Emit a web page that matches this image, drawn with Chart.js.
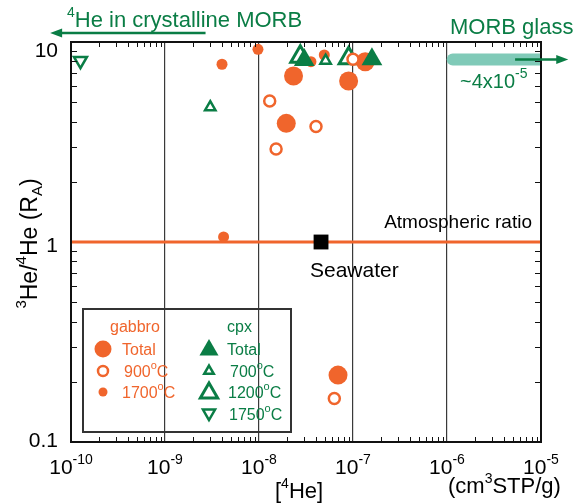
<!DOCTYPE html>
<html>
<head>
<meta charset="utf-8">
<script src="https://cdn.jsdelivr.net/npm/chart.js@4/dist/chart.umd.min.js"></script>
<style>
  body { margin: 0; background: #fff; }
  #wrap { width: 579px; height: 504px; }
</style>
</head>
<body>
<div id="wrap"><canvas id="heChart" width="579" height="504"></canvas></div>
<script>
const ORANGE = '#f0652c';
const GREEN = '#0a7d45';
const TEAL = '#80cab8';
const FONT = '"Liberation Sans", Arial, Helvetica, sans-serif';

// axis decades (tick labels)
const xDecades = [1e-10, 1e-9, 1e-8, 1e-7, 1e-6, 1e-5];
const yDecades = [0.1, 1, 10];
const yTickLabels = ['0.1', '1', '10'];

// [4He] (cm3STP/g) , 3He/4He (RA)
const gabbroTotal = [[2.33e-8, 6.76], [8.98e-8, 6.38], [1.95e-8, 3.92], [1.35e-7, 7.97], [6.93e-8, 0.216]];
const gabbro900 = [[1.0e-7, 8.2], [1.30e-8, 5.07], [4.04e-8, 3.78], [1.52e-8, 2.92], [6.33e-8, 0.165]];
const gabbro1700 = [[9.75e-9, 9.19], [4.04e-9, 7.74], [3.57e-8, 7.97], [4.95e-8, 8.61], [4.2e-9, 1.06]];
const cpxTotal = [[3.03e-8, 8.13], [1.59e-7, 8.2]];
const cpx700 = [[3.03e-9, 4.72], [5.11e-8, 8.06]];
const cpx1200 = [[2.75e-8, 8.44], [9.0e-8, 8.3]];
const cpx1750 = [[1.26e-10, 8.06]];
const seawater = [[4.57e-8, 1.0]];
const atmRatio = 1;
const morbGlass = [[1.15e-6, 8.18], [4e-5, 8.18]];

const pts = arr => arr.map(p => ({ x: p[0], y: p[1] }));

function sup(t, size, dy) { return { t, s: size, dy }; }

function richWidth(ctx, parts) {
    let w = 0;
    parts.forEach(p => { ctx.font = p.s + 'px ' + FONT; w += ctx.measureText(p.t).width; });
    return w;
}

function drawRich(ctx, parts, x, y, align) {
    const w = richWidth(ctx, parts);
    let cx = align === 'center' ? x - w / 2 : align === 'right' ? x - w : x;
    ctx.textAlign = 'left';
    ctx.textBaseline = 'alphabetic';
    parts.forEach(p => {
        ctx.font = p.s + 'px ' + FONT;
        ctx.fillText(p.t, cx, y + (p.dy || 0));
        cx += ctx.measureText(p.t).width;
    });
}

function marker(ctx, style, r, rot, fill, stroke, bw, x, y) {
    ctx.save();
    ctx.fillStyle = fill;
    ctx.strokeStyle = stroke;
    ctx.lineWidth = bw;
    Chart.helpers.drawPoint(ctx, { pointStyle: style, radius: r, rotation: rot, borderWidth: bw }, x, y);
    ctx.restore();
}

function arrow(ctx, x1, y1, x2, y2, color) {
    const dir = Math.sign(x2 - x1);
    ctx.save();
    ctx.strokeStyle = color;
    ctx.fillStyle = color;
    ctx.lineWidth = 2.5;
    ctx.beginPath();
    ctx.moveTo(x1, y1);
    ctx.lineTo(x2 - dir * 8, y2);
    ctx.stroke();
    ctx.beginPath();
    ctx.moveTo(x2, y2);
    ctx.lineTo(x2 - dir * 12, y2 - 4.5);
    ctx.lineTo(x2 - dir * 12, y2 + 4.5);
    ctx.closePath();
    ctx.fill();
    ctx.restore();
}

const decorPlugin = {
    id: 'decor',
    afterDraw(chart) {
        const ctx = chart.ctx;
        const xs = chart.scales.x, ys = chart.scales.y;
        const a = chart.chartArea;

        ctx.save();
        // frame
        ctx.strokeStyle = '#111';
        ctx.lineWidth = 2;
        ctx.strokeRect(a.left, a.top, a.right - a.left, a.bottom - a.top);

        // minor ticks, inward on all four sides
        ctx.lineWidth = 1;
        ctx.beginPath();
        xDecades.slice(0, -1).forEach(d => {
            for (let m = 2; m <= 9; m++) {
                const px = Math.round(xs.getPixelForValue(d * m)) + 0.5;
                ctx.moveTo(px, a.bottom); ctx.lineTo(px, a.bottom - 5);
                ctx.moveTo(px, a.top); ctx.lineTo(px, a.top + 5);
            }
        });
        yDecades.slice(0, -1).forEach(d => {
            for (let m = 2; m <= 9; m++) {
                const py = Math.round(ys.getPixelForValue(d * m)) + 0.5;
                ctx.moveTo(a.left, py); ctx.lineTo(a.left + 6, py);
                ctx.moveTo(a.right, py); ctx.lineTo(a.right - 6, py);
            }
        });
        ctx.stroke();

        // tick labels
        ctx.fillStyle = '#000';
        xDecades.forEach(d => {
            const px = xs.getPixelForValue(d);
            const e = Math.round(Math.log10(d));
            drawRich(ctx, [{ t: '10', s: 21 }, { t: String(e), s: 14, dy: -10 }], px, 474, 'center');
        });
        const yOff = [-2, 3, 8];
        yDecades.forEach((d, i) => {
            const py = ys.getPixelForValue(d) + yOff[i] + 7;
            drawRich(ctx, [{ t: yTickLabels[i], s: 21 }], 58, py, 'right');
        });

        // axis titles
        drawRich(ctx, [sup('[', 22), sup('4', 14, -10), sup('He]', 22)], 275, 498, 'left');
        drawRich(ctx, [sup('(cm', 22), sup('3', 14, -10), sup('STP/g)', 22)], 448, 493, 'left');
        ctx.save();
        ctx.translate(37, 243.5);
        ctx.rotate(-Math.PI / 2);
        drawRich(ctx, [sup('3', 15, -11), sup('He/', 23), sup('4', 15, -11), sup('He (R', 23), sup('A', 15, 5), sup(')', 23)], 0, 0, 'center');
        ctx.restore();

        // annotations
        drawRich(ctx, [sup('Atmospheric ratio', 19)], 532, 228, 'right');
        drawRich(ctx, [sup('Seawater', 21)], 310, 277, 'left');

        ctx.fillStyle = GREEN;
        drawRich(ctx, [sup('4', 14, -10), sup('He in crystalline MORB', 22)], 67, 27, 'left');
        drawRich(ctx, [sup('MORB glass', 22)], 450, 34, 'left');
        drawRich(ctx, [sup('~4x10', 20), sup('-5', 14, -10)], 460, 88, 'left');
        const yArrow = ys.getPixelForValue(morbGlass[0][1]);
        arrow(ctx, xs.getPixelForValue(5.3e-6), yArrow, xs.getPixelForValue(1.95e-5), yArrow, GREEN);
        arrow(ctx, xs.getPixelForValue(2.7e-9), 33, xs.getPixelForValue(6e-11), 33, GREEN);

        // legend
        ctx.strokeStyle = '#333';
        ctx.lineWidth = 2;
        ctx.strokeRect(83, 309, 208, 123);
        const deg = [sup('o', 11, -8), sup('C', 16)];
        ctx.fillStyle = ORANGE;
        drawRich(ctx, [sup('gabbro', 16)], 110, 332, 'left');
        drawRich(ctx, [sup('Total', 16)], 122, 355, 'left');
        drawRich(ctx, [sup('900', 16)].concat(deg), 124, 377, 'left');
        drawRich(ctx, [sup('1700', 16)].concat(deg), 122, 398, 'left');
        ctx.fillStyle = GREEN;
        drawRich(ctx, [sup('cpx', 16)], 227, 332, 'left');
        drawRich(ctx, [sup('Total', 16)], 227, 355, 'left');
        drawRich(ctx, [sup('700', 16)].concat(deg), 230, 377, 'left');
        drawRich(ctx, [sup('1200', 16)].concat(deg), 228, 398, 'left');
        drawRich(ctx, [sup('1750', 16)].concat(deg), 229, 420, 'left');

        marker(ctx, 'circle', 8.5, 0, ORANGE, ORANGE, 0, 103, 349);
        marker(ctx, 'circle', 5, 0, '#fff', ORANGE, 2.5, 103, 371);
        marker(ctx, 'circle', 4.5, 0, ORANGE, ORANGE, 0, 103, 392);
        marker(ctx, 'triangle', 11, 0, GREEN, GREEN, 0, 209, 350);
        marker(ctx, 'triangle', 5.5, 0, '#fff', GREEN, 2.5, 209, 371);
        marker(ctx, 'triangle', 10, 0, '#fff', GREEN, 3, 209, 393);
        marker(ctx, 'triangle', 7, 180, '#fff', GREEN, 2.5, 209, 413);
        ctx.restore();
    }
};

const ctx = document.getElementById('heChart').getContext('2d');

new Chart(ctx, {
    type: 'scatter',
    data: {
        datasets: [
            { label: 'cpx Total', data: pts(cpxTotal), pointStyle: 'triangle', pointRadius: 12, backgroundColor: GREEN, borderColor: GREEN, borderWidth: 0, order: 1 },
            { label: 'gabbro 900', data: pts(gabbro900), pointStyle: 'circle', pointRadius: 5.5, backgroundColor: '#fff', borderColor: ORANGE, borderWidth: 2.5, order: 2 },
            { label: 'cpx 700', data: pts(cpx700), pointStyle: 'triangle', pointRadius: 6, backgroundColor: '#fff', borderColor: GREEN, borderWidth: 2.5, order: 3 },
            { label: 'cpx 1750', data: pts(cpx1750), pointStyle: 'triangle', rotation: 180, pointRadius: 7.5, backgroundColor: '#fff', borderColor: GREEN, borderWidth: 2.5, order: 3 },
            { label: 'gabbro 1700', data: pts(gabbro1700), pointStyle: 'circle', pointRadius: 5.5, backgroundColor: ORANGE, borderColor: ORANGE, borderWidth: 0, order: 4 },
            { label: 'gabbro Total', data: pts(gabbroTotal), pointStyle: 'circle', pointRadius: 9.5, backgroundColor: ORANGE, borderColor: ORANGE, borderWidth: 0, order: 5 },
            { label: 'cpx 1200', data: pts(cpx1200), pointStyle: 'triangle', pointRadius: 11, backgroundColor: '#fff', borderColor: GREEN, borderWidth: 3, order: 6 },
            { label: 'Seawater', data: pts(seawater), pointStyle: 'rect', pointRadius: 10.5, backgroundColor: '#000', borderColor: '#000', borderWidth: 0, order: 7 },
            {
                type: 'line', label: 'Atmospheric ratio',
                data: [{ x: xDecades[0], y: atmRatio }, { x: xDecades[xDecades.length - 1], y: atmRatio }],
                borderColor: ORANGE, borderWidth: 3, pointRadius: 0, order: 9
            },
            {
                type: 'line', label: 'MORB glass', data: pts(morbGlass),
                borderColor: TEAL, borderWidth: 12, borderCapStyle: 'round', pointRadius: 0, order: 9,
                clip: { left: false, top: false, right: 0, bottom: false }
            }
        ]
    },
    options: {
        responsive: false,
        animation: false,
        devicePixelRatio: 1,
        layout: { padding: { left: 71, right: 38, top: 42, bottom: 62 } },
        plugins: { legend: { display: false }, tooltip: { enabled: false } },
        scales: {
            x: {
                type: 'logarithmic', min: 1e-10, max: 1e-5,
                afterBuildTicks: s => { s.ticks = xDecades.map(v => ({ value: v })); },
                ticks: { display: false },
                border: { display: false },
                grid: { color: '#3a3a3a', lineWidth: 1.2, drawTicks: false }
            },
            y: {
                type: 'logarithmic', min: 0.1, max: 10,
                afterBuildTicks: s => { s.ticks = yDecades.map(v => ({ value: v })); },
                ticks: { display: false },
                border: { display: false },
                grid: { display: false, drawTicks: false }
            }
        }
    },
    plugins: [decorPlugin]
});
</script>
</body>
</html>
